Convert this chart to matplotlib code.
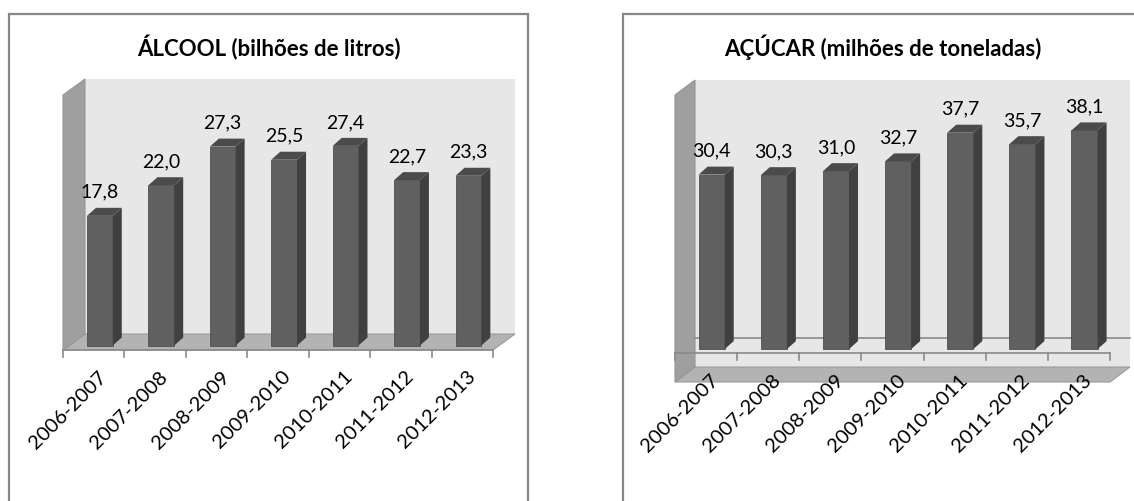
import matplotlib
matplotlib.use('Agg')
import numpy as np
import matplotlib.pyplot as plt
from matplotlib.patches import Polygon, Rectangle
from matplotlib.transforms import offset_copy, IdentityTransform

plt.rcParams['font.family'] = ['Lato', 'DejaVu Sans']

# data
safras = ['2006-2007', '2007-2008', '2008-2009', '2009-2010',
          '2010-2011', '2011-2012', '2012-2013']
alcool = [17.8, 22.0, 27.3, 25.5, 27.4, 22.7, 23.3]
acucar = [30.4, 30.3, 31.0, 32.7, 37.7, 35.7, 38.1]

W, H = 1134, 501
fig = plt.figure(figsize=(W / 100, H / 100), dpi=100, facecolor='white')

FRONT = '#606060'
SIDE = '#404040'
TOP = '#4b4b4b'
WALL = '#e7e7e7'
SIDEWALL = '#9f9f9f'
FLOOR = '#b3b3b3'
LINE = '#8a8a8a'


def fig_box(x0, y0, x1, y1):
    # image pixel box -> figure fractions
    return [x0 / W, 1 - y1 / H, (x1 - x0) / W, (y1 - y0) / H]


def draw_chart(frame_x, plane, ylim, depth, values, title, zero_line):
    # outer frame
    fig.add_artist(Rectangle((frame_x / W, -0.1), 519 / W, 1.1 - 14 / H,
                             transform=fig.transFigure, fill=False,
                             ec='#878787', lw=1.6))
    fig.text((frame_x + 259.5) / W, 1 - 56 / H, title, ha='center',
             va='baseline', fontsize=16, fontweight='bold', color='black')

    x0, x1, ytop, ybot = plane
    ax = fig.add_axes(fig_box(x0, ytop, x1, ybot))
    ax.set_xlim(-0.5, 6.5)
    ax.set_ylim(*ylim)
    ax.axis('off')
    ymin, ymax = ylim
    dx, dy = depth
    n = len(values)
    T = ax.transData.transform
    ident = IdentityTransform()

    # back wall
    back = offset_copy(ax.transData, fig=fig, x=dx, y=dy, units='dots')
    ax.add_patch(Rectangle((-0.5, ymin), n, ymax - ymin, transform=back,
                           fc=WALL, ec='none', zorder=0, clip_on=False))
    # floor
    p = T([(-0.5, ymin), (6.5, ymin)])
    ax.add_patch(Polygon([p[0], p[1], p[1] + (dx, dy), p[0] + (dx, dy)],
                         closed=True, transform=ident, fc=FLOOR, ec='#9a9a9a',
                         lw=0.8, zorder=1, clip_on=False))
    # side wall
    p = T([(-0.5, ymin), (-0.5, ymax)])
    ax.add_patch(Polygon([p[0], p[1], p[1] + (dx, dy), p[0] + (dx, dy)],
                         closed=True, transform=ident, fc=SIDEWALL, ec='#959595',
                         lw=0.8, zorder=1, clip_on=False))
    if zero_line:
        ax.plot([-0.5, 6.5], [0, 0], transform=back, color=LINE, lw=1.2,
                zorder=1, clip_on=False)

    # category axis line and ticks
    ax.plot([-0.5, 6.5], [0, 0], color=LINE, lw=1.2, zorder=2, clip_on=False)
    for b in np.arange(-0.5, 7, 1.0):
        q = T([(b, 0)])[0]
        ax.plot([q[0], q[0]], [q[1], q[1] - 7], transform=ident, color=LINE,
                lw=1.2, zorder=2, clip_on=False)
    lab_tr = offset_copy(ax.transData, fig=fig, x=4, y=-18, units='dots')
    for i, s in enumerate(safras):
        ax.text(i, 0, s, transform=lab_tr, rotation=45, rotation_mode='anchor',
                ha='right', va='top', fontsize=14.5, color='black', zorder=6)

    # bars: front face through ax.bar, sides/tops from the same values
    f = 0.28
    sx, sy = f * dx, f * dy
    bd = np.array([9, 8])
    wdt = 0.42
    face_tr = offset_copy(ax.transData, fig=fig, x=sx, y=sy, units='dots')
    xs = np.arange(n)
    ax.bar(xs, values, width=wdt, color=FRONT, ec='#505050', lw=0.6,
           transform=face_tr, zorder=4, clip_on=False)
    for i, v in enumerate(values):
        a, b, c = T([(i + wdt / 2, 0), (i + wdt / 2, v), (i - wdt / 2, v)]) + (sx, sy)
        ax.add_patch(Polygon([a, b, b + bd, a + bd], closed=True, transform=ident,
                             fc=SIDE, ec='none', zorder=4, clip_on=False))
        ax.add_patch(Polygon([c, b, b + bd, c + bd], closed=True, transform=ident,
                             fc=TOP, ec='none', zorder=4, clip_on=False))
    val_tr = offset_copy(ax.transData, fig=fig, x=sx, y=sy + 18, units='dots')
    for i, v in enumerate(values):
        ax.text(i, v, f'{v:.1f}'.replace('.', ','), transform=val_tr,
                ha='center', va='baseline', fontsize=14, color='black', zorder=6)
    return ax


draw_chart(9, (63, 493, 95, 350), (0, 35), (22, 16), alcool,
           'ÁLCOOL (bilhões de litros)', False)
draw_chart(623, (675, 1110, 95, 382), (-5, 45), (20, 15), acucar,
           'AÇÚCAR (milhões de toneladas)', True)

fig.savefig('out.png', dpi=100, facecolor='white')
